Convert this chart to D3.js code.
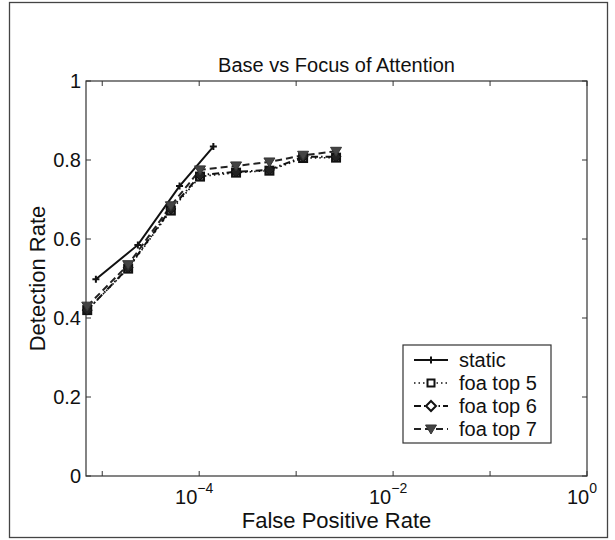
<!DOCTYPE html>
<html><head><meta charset="utf-8">
<script src="https://cdn.jsdelivr.net/npm/d3@7"></script>
<style>body{margin:0;background:#fff}svg{display:block}text{font-family:"Liberation Sans",Arial,sans-serif;fill:#111}</style>
</head><body><svg id="c" width="615" height="540"></svg>
<script>
const staticX = [8.6e-6, 2.33e-5, 6.27e-5, 1.40e-4];
const staticY = [0.498, 0.585, 0.734, 0.834];
const foaX = [7.0e-6, 1.85e-5, 5.1e-5, 1.02e-4, 2.4e-4, 5.3e-4, 1.18e-3, 2.58e-3];
const foa5Y = [0.420, 0.525, 0.672, 0.758, 0.768, 0.773, 0.805, 0.806];
const foa6Y = [0.420, 0.527, 0.676, 0.762, 0.770, 0.775, 0.808, 0.808];
const foa7Y = [0.430, 0.535, 0.684, 0.775, 0.785, 0.795, 0.812, 0.822];
const seriesNames = ["static", "foa top 5", "foa top 6", "foa top 7"];
const xTickExps = [-5, -4, -3, -2, -1, 0];
const xLabelExps = [-4, -2, 0];
const yTicks = [0, 0.2, 0.4, 0.6, 0.8, 1];
const titleText = "Base vs Focus of Attention";
const xLabelText = "False Positive Rate";
const yLabelText = "Detection Rate";

const svg = d3.select("#c");
const L = 86, R = 587, T = 81, B = 476;
const x = d3.scaleLog().domain([6.8e-6, 1]).range([L, R]);
const y = d3.scaleLinear().domain([0, 1]).range([B, T]);

// outer frame
svg.append("rect").attr("x", 9.5).attr("y", 2.5).attr("width", 598).attr("height", 535)
  .attr("fill", "none").attr("stroke", "#444").attr("stroke-width", 1.3);

// axes box
const axc = "#333";
svg.append("rect").attr("x", L).attr("y", T).attr("width", R - L).attr("height", B - T)
  .attr("fill", "none").attr("stroke", axc).attr("stroke-width", 1.2);

const tl = 5;
const g = svg.append("g");
xTickExps.forEach(e => {
  const xv = x(Math.pow(10, e));
  g.append("line").attr("x1", xv).attr("x2", xv).attr("y1", B).attr("y2", B - tl).attr("stroke", axc);
  g.append("line").attr("x1", xv).attr("x2", xv).attr("y1", T).attr("y2", T + tl).attr("stroke", axc);
});
yTicks.forEach(v => {
  const yv = y(v);
  g.append("line").attr("x1", L).attr("x2", L + tl).attr("y1", yv).attr("y2", yv).attr("stroke", axc);
  g.append("line").attr("x1", R).attr("x2", R - tl).attr("y1", yv).attr("y2", yv).attr("stroke", axc);
  g.append("text").attr("x", L - 5).attr("y", yv).attr("dy", "0.36em").attr("text-anchor", "end")
    .attr("font-size", 20).text(v === 0 ? "0" : v === 1 ? "1" : d3.format(".1f")(v));
});
xLabelExps.forEach(e => {
  const xv = x(Math.pow(10, e));
  const t = g.append("text").attr("x", xv - 5).attr("y", 504).attr("text-anchor", "middle").attr("font-size", 20);
  t.append("tspan").text("10");
  t.append("tspan").attr("dy", -11).attr("font-size", 14).text(String(e).replace("-", "\u2212"));
});

svg.append("text").attr("x", (L + R) / 2).attr("y", 72).attr("text-anchor", "middle").attr("font-size", 20).text(titleText);
svg.append("text").attr("x", (L + R) / 2).attr("y", 528).attr("text-anchor", "middle").attr("font-size", 22).text(xLabelText);
svg.append("text").attr("transform", `translate(45,${(T + B) / 2}) rotate(-90)`).attr("text-anchor", "middle").attr("font-size", 22).text(yLabelText);

const series = [
  {xs: staticX, ys: staticY, dash: null, sw: 2, marker: "plus", color: "#111"},
  {xs: foaX, ys: foa5Y, dash: "1.5,3", sw: 1.6, marker: "square", color: "#111"},
  {xs: foaX, ys: foa6Y, dash: "7,3,1.5,3", sw: 2, marker: "diamond", color: "#111"},
  {xs: foaX, ys: foa7Y, dash: "7,4", sw: 2, marker: "triangle", color: "#222"}
];
const line = d3.line().x(d => x(d[0])).y(d => y(d[1]));

function drawMarker(sel, type, cx, cy, inLegend) {
  const fillS = inLegend ? "#fff" : "#555";
  if (type === "plus") {
    sel.append("path").attr("d", `M${cx - 3.5},${cy}H${cx + 3.5}M${cx},${cy - 3.5}V${cy + 3.5}`).attr("stroke", "#111").attr("stroke-width", 2);
  } else if (type === "square") {
    const h = inLegend ? 3.5 : 4;
    sel.append("rect").attr("x", cx - h).attr("y", cy - h).attr("width", 2 * h).attr("height", 2 * h)
      .attr("fill", fillS).attr("stroke", "#111").attr("stroke-width", 2);
  } else if (type === "diamond") {
    sel.append("path").attr("d", `M${cx},${cy - 5}L${cx + 5},${cy}L${cx},${cy + 5}L${cx - 5},${cy}Z`)
      .attr("fill", inLegend ? "#fff" : "#222").attr("stroke", "#111").attr("stroke-width", inLegend ? 2 : 1);
  } else {
    sel.append("path").attr("d", `M${cx - 5.5},${cy - 4}L${cx + 5.5},${cy - 4}L${cx},${cy + 5}Z`).attr("fill", "#444").attr("stroke", "#333").attr("stroke-width", 1);
  }
}

const pg = svg.append("g");
series.forEach(s => {
  const pts = s.xs.map((v, i) => [v, s.ys[i]]);
  pg.append("path").attr("d", line(pts)).attr("fill", "none").attr("stroke", s.color).attr("stroke-width", s.sw)
    .attr("stroke-dasharray", s.dash);
});
series.forEach(s => {
  s.xs.forEach((v, i) => drawMarker(pg, s.marker, x(v), y(s.ys[i]), false));
});

// legend
const lg = svg.append("g");
lg.append("rect").attr("x", 403).attr("y", 345).attr("width", 148).attr("height", 98).attr("fill", "#fff").attr("stroke", axc).attr("stroke-width", 1.2);
const rows = [360, 383, 406, 429];
series.forEach((s, i) => {
  const yy = rows[i];
  lg.append("line").attr("x1", 414).attr("x2", 448).attr("y1", yy).attr("y2", yy).attr("stroke", s.color)
    .attr("stroke-width", s.sw).attr("stroke-dasharray", s.dash);
  drawMarker(lg, s.marker, 431, yy, true);
  lg.append("text").attr("x", 459).attr("y", yy).attr("dy", "0.36em").attr("font-size", 20).text(seriesNames[i]);
});
</script></body></html>
